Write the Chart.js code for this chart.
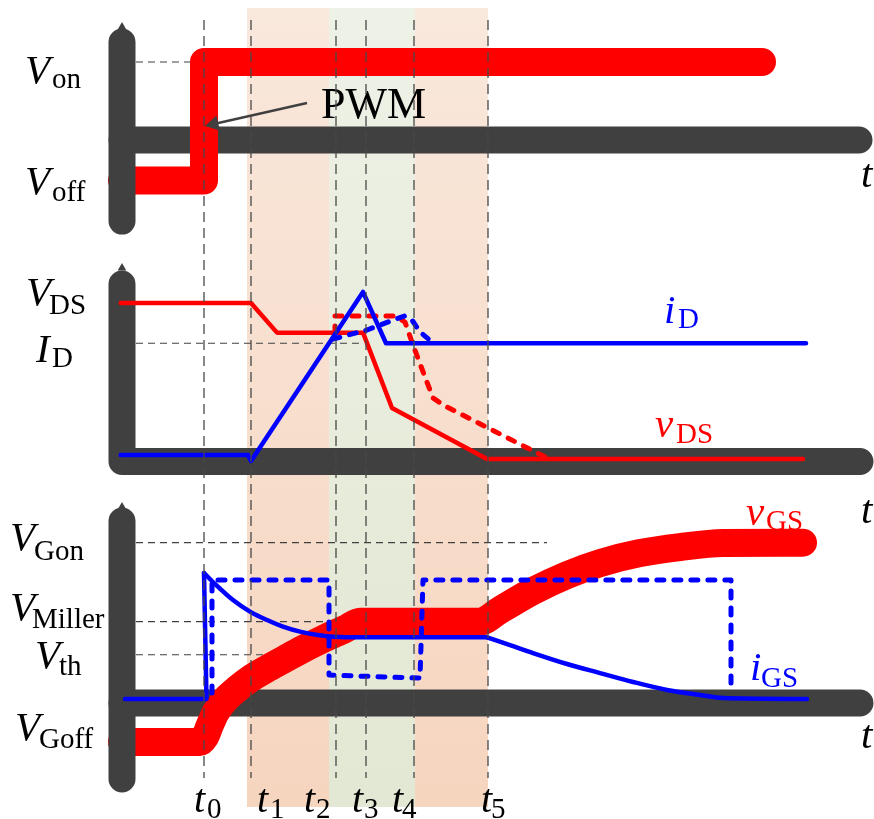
<!DOCTYPE html>
<html>
<head>
<meta charset="utf-8">
<script src="https://cdn.jsdelivr.net/npm/chart.js@4.4.1/dist/chart.umd.min.js"></script>
<style>
  html, body { margin: 0; padding: 0; background: #fff; }
  #wrap { width: 874px; height: 819px; }
</style>
</head>
<body>
<div id="wrap"><canvas id="switchChart" width="874" height="819"></canvas></div>
<script>
// time axis (t0 = 0, arbitrary units)
const tMarks = [0, 4.7, 13.2, 16.2, 21.0, 28.4];
const tNames = ['0', '1', '2', '3', '4', '5'];
const bandEdges = [4.3, 12.5, 21.1, 28.4];

// top panel: PWM command
const pwmT = [-8.2, 0, 0, 55.8];
const pwmV = [-0.52, -0.52, 1.0, 1.0];
const vOn = 1.0;

// middle panel: drain voltage and current
const vdsT = [-8.33, 4.7, 7.3, 15.9, 18.8, 28.3, 59.9];
const vdsV = [1.0, 1.0, 0.81, 0.81, 0.327, 0, 0];
const idT = [-8.33, 4.4, 4.7, 15.9, 18.2, 60.2];
const idV = [0.026, 0.026, -0.013, 1.071, 0.742, 0.742];
const vdsSlowT = [13.1, 13.1, 19.1, 20.1, 20.9, 22.1, 22.9, 24.1, 34.1];
const vdsSlowV = [0.808, 0.917, 0.917, 0.878, 0.731, 0.526, 0.391, 0.340, 0.013];
const idSlowT = [12.9, 16.3, 18.9, 20.1, 20.8, 21.6, 22.9];
const idSlowV = [0.769, 0.827, 0.891, 0.917, 0.891, 0.814, 0.744];
const idLevel = 0.742;

// bottom panel: gate voltage and current
const vgsT = [-8.2, -0.4, 0.1, 0.6, 1.2, 2.1, 3.3, 4.6, 6.1, 7.9, 9.9, 12.1, 14.1, 15.6, 27.6, 29.6, 32.9, 36.3, 39.6, 43.6, 47.6, 51.9, 59.9];
const vgsV = [-0.275, -0.275, -0.243, -0.166, -0.083, -0.006, 0.064, 0.128, 0.186, 0.250, 0.320, 0.390, 0.448, 0.495, 0.495, 0.569, 0.691, 0.793, 0.870, 0.934, 0.972, 0.998, 1.0];
const igsSpikeT = [-7.9, 0.25, 0];
const igsSpikeV = [0, 0, 0.806];
const igsDecayT = [0, 1.1, 2.9, 4.6, 6.3, 7.9, 9.6, 12.9, 16.3, 28.3];
const igsDecayV = [0.806, 0.736, 0.633, 0.559, 0.505, 0.463, 0.431, 0.399, 0.395, 0.395];
const igsFallT = [28.3, 30.6, 32.9, 36.3, 39.6, 42.9, 46.3, 49.6, 51.9, 60.3];
const igsFallV = [0.395, 0.345, 0.294, 0.224, 0.166, 0.109, 0.058, 0.026, 0.006, 0];
const igsSlowT = [0.8, 0.8, 12.5, 12.5, 21.6, 21.9, 52.7, 52.7];
const igsSlowV = [0.038, 0.761, 0.761, 0.153, 0.134, 0.761, 0.761, 0.058];
const vGon = 1.0;
const vMiller = 0.495;
const vTh = 0.283;

const RED = '#ff0000';
const BLUE = '#0000ff';
const AXIS = '#404040';
const SERIF = '"Liberation Serif", "Times New Roman", serif';

function pts(ts, vs) {
    return ts.map((t, i) => ({ x: t, y: vs[i] }));
}

function line(ts, vs, axis, color, width, order, extra) {
    return Object.assign({
        data: pts(ts, vs),
        yAxisID: axis,
        showLine: true,
        borderColor: color,
        borderWidth: width,
        pointRadius: 0,
        borderCapStyle: 'round',
        borderJoinStyle: 'round',
        fill: false,
        order: order
    }, extra || {});
}

const guide = { borderDash: [7, 5], borderCapStyle: 'butt' };
const dotted = { borderDash: [7, 10] };
const smooth = { cubicInterpolationMode: 'monotone' };

const datasets = [
    // time markers
    ...tMarks.map(t => line([t, t], [1.538, -8.18], 'yPwm', '#484848', 1.3, 0, { borderDash: [10, 6], borderCapStyle: 'butt' })),

    // PWM panel
    line([-8.2, -8.2], [1.256, -1.04], 'yPwm', AXIS, 27, 3),
    line([-8.2, 65.5], [0, 0], 'yPwm', AXIS, 27, 5),
    line(pwmT, pwmV, 'yPwm', RED, 28, 4),
    line([-6.8, 0], [vOn, vOn], 'yPwm', AXIS, 1.2, 6, guide),
    line([10.3, 0.98], [0.474, 0.205], 'yPwm', AXIS, 2.4, 1, {
        borderCapStyle: 'butt', pointRadius: [0, 9], pointStyle: 'triangle',
        pointRotation: 257, pointBackgroundColor: AXIS, pointBorderWidth: 0
    }),

    // drain panel
    line([-8.2, -8.2, 65.6], [1.122, -0.016, -0.016], 'yDrain', AXIS, 27, 3),
    line([-6.8, 15.9], [idLevel, idLevel], 'yDrain', AXIS, 1.2, 6, guide),
    line(vdsSlowT, vdsSlowV, 'yDrain', RED, 5, 2, dotted),
    line(idSlowT, idSlowV, 'yDrain', BLUE, 5, 1, dotted),
    line(vdsT, vdsV, 'yDrain', RED, 4.5, 2),
    line(idT, idV, 'yDrain', BLUE, 4.5, 1),

    // gate panel
    line([-8.2, -8.2], [1.139, -0.512], 'yGate', AXIS, 27, 3),
    line([-8.2, 65.6], [-0.026, -0.026], 'yGate', AXIS, 27, 5),
    line([-6.8, 34.3], [vGon, vGon], 'yGate', AXIS, 1.2, 6, guide),
    line([-6.8, 13.2], [vMiller, vMiller], 'yGate', AXIS, 1.2, 6, guide),
    line([-6.8, 7.6], [vTh, vTh], 'yGate', AXIS, 1.2, 6, guide),
    line(vgsT, vgsV, 'yGate', RED, 28, 4, smooth),
    line(igsSlowT, igsSlowV, 'yGate', BLUE, 5, 1, dotted),
    line(igsSpikeT, igsSpikeV, 'yGate', BLUE, 4.5, 1),
    line(igsDecayT, igsDecayV, 'yGate', BLUE, 4.5, 1, smooth),
    line(igsFallT, igsFallV, 'yGate', BLUE, 4.5, 1, smooth),

    // small arrow tips on the vertical axes
    { data: [{ x: -8.2, y: 1.449 }], yAxisID: 'yPwm', showLine: false, pointStyle: 'triangle', pointRadius: 5, pointBackgroundColor: AXIS, pointBorderWidth: 0, order: 3 },
    { data: [{ x: -8.2, y: 1.224 }], yAxisID: 'yDrain', showLine: false, pointStyle: 'triangle', pointRadius: 5, pointBackgroundColor: AXIS, pointBorderWidth: 0, order: 3 },
    { data: [{ x: -8.2, y: 1.228 }], yAxisID: 'yGate', showLine: false, pointStyle: 'triangle', pointRadius: 5, pointBackgroundColor: AXIS, pointBorderWidth: 0, order: 3 }
];

// text: main glyph (italic) + subscript
const labels = [
    { m: 'V', s: 'on', x: 25, y: 83, sx: 52, sy: 88, c: '#000' },
    { m: 'V', s: 'off', x: 25, y: 194, sx: 52, sy: 201, c: '#000' },
    { m: 'V', s: 'DS', x: 26, y: 305, sx: 49, sy: 314, c: '#000' },
    { m: 'I', s: 'D', x: 36, y: 362, sx: 52, sy: 367, c: '#000' },
    { m: 'V', s: 'Gon', x: 10, y: 550, sx: 34, sy: 560, c: '#000' },
    { m: 'V', s: 'Miller', x: 10, y: 620, sx: 32, sy: 628, c: '#000' },
    { m: 'V', s: 'th', x: 35, y: 668, sx: 59, sy: 675, c: '#000' },
    { m: 'V', s: 'Goff', x: 15, y: 740, sx: 39, sy: 748, c: '#000' },
    { m: 'i', s: 'D', x: 664, y: 323, sx: 678, sy: 328, c: BLUE },
    { m: 'v', s: 'DS', x: 655, y: 437, sx: 676, sy: 443, c: RED },
    { m: 'v', s: 'GS', x: 746, y: 525, sx: 766, sy: 530, c: RED },
    { m: 'i', s: 'GS', x: 750, y: 680, sx: 761, sy: 687, c: BLUE },
    { m: 't', s: '', x: 861, y: 187, c: '#000' },
    { m: 't', s: '', x: 861, y: 523, c: '#000' },
    { m: 't', s: '', x: 861, y: 748, c: '#000' }
];
const tLabelX = [194, 257, 304, 352, 392, 481];
const tSubX = [207, 270, 316, 364, 402, 491];

const backdrop = {
    id: 'backdrop',
    beforeDatasetsDraw(chart) {
        const { ctx, scales } = chart;
        const xs = scales.x;
        const top = scales.yPwm.getPixelForValue(1.692);
        const bottom = scales.yPwm.getPixelForValue(-8.551);
        const fills = [['#f9e8dc', '#f6d5bf'], ['#eef1e6', '#e2e8d3'], ['#f9e8dc', '#f6d5bf']];
        ctx.save();
        for (let i = 0; i < 3; i++) {
            const g = ctx.createLinearGradient(0, top, 0, bottom);
            g.addColorStop(0, fills[i][0]);
            g.addColorStop(1, fills[i][1]);
            ctx.fillStyle = g;
            const x0 = xs.getPixelForValue(bandEdges[i]);
            const x1 = xs.getPixelForValue(bandEdges[i + 1]);
            ctx.fillRect(x0, top, x1 - x0, bottom - top);
        }

        ctx.textBaseline = 'alphabetic';
        ctx.textAlign = 'left';
        for (const l of labels) {
            ctx.fillStyle = l.c;
            ctx.font = 'italic 41px ' + SERIF;
            ctx.fillText(l.m, l.x, l.y);
            if (l.s) {
                ctx.font = '29px ' + SERIF;
                ctx.fillText(l.s, l.sx, l.sy);
            }
        }
        ctx.fillStyle = '#000';
        tNames.forEach((n, i) => {
            ctx.font = 'italic 40px ' + SERIF;
            ctx.fillText('t', tLabelX[i], 812);
            ctx.font = '29px ' + SERIF;
            ctx.fillText(n, tSubX[i], 818);
        });
        ctx.font = '44px ' + SERIF;
        ctx.fillText('PWM', 321, 118);
        ctx.restore();
    }
};

// pixel layout of each panel: zero line and pixels per unit
const H = 819;
function yRange(zeroPx, pxPerUnit) {
    return { min: -(H - zeroPx) / pxPerUnit, max: zeroPx / pxPerUnit };
}
const rPwm = yRange(140, 78);
const rDrain = yRange(459, 156);
const rGate = yRange(699, 156.3);

new Chart(document.getElementById('switchChart').getContext('2d'), {
    type: 'scatter',
    data: { datasets: datasets },
    options: {
        responsive: false,
        animation: false,
        devicePixelRatio: 1,
        events: [],
        layout: { autoPadding: false, padding: 0 },
        elements: { line: { tension: 0 } },
        plugins: { legend: { display: false }, tooltip: { enabled: false } },
        scales: {
            x: { type: 'linear', display: false, min: -20.4, max: 67.0 },
            yPwm: { type: 'linear', position: 'left', display: false, min: rPwm.min, max: rPwm.max },
            yDrain: { type: 'linear', position: 'left', display: false, min: rDrain.min, max: rDrain.max },
            yGate: { type: 'linear', position: 'left', display: false, min: rGate.min, max: rGate.max }
        }
    },
    plugins: [backdrop]
});
</script>
</body>
</html>
